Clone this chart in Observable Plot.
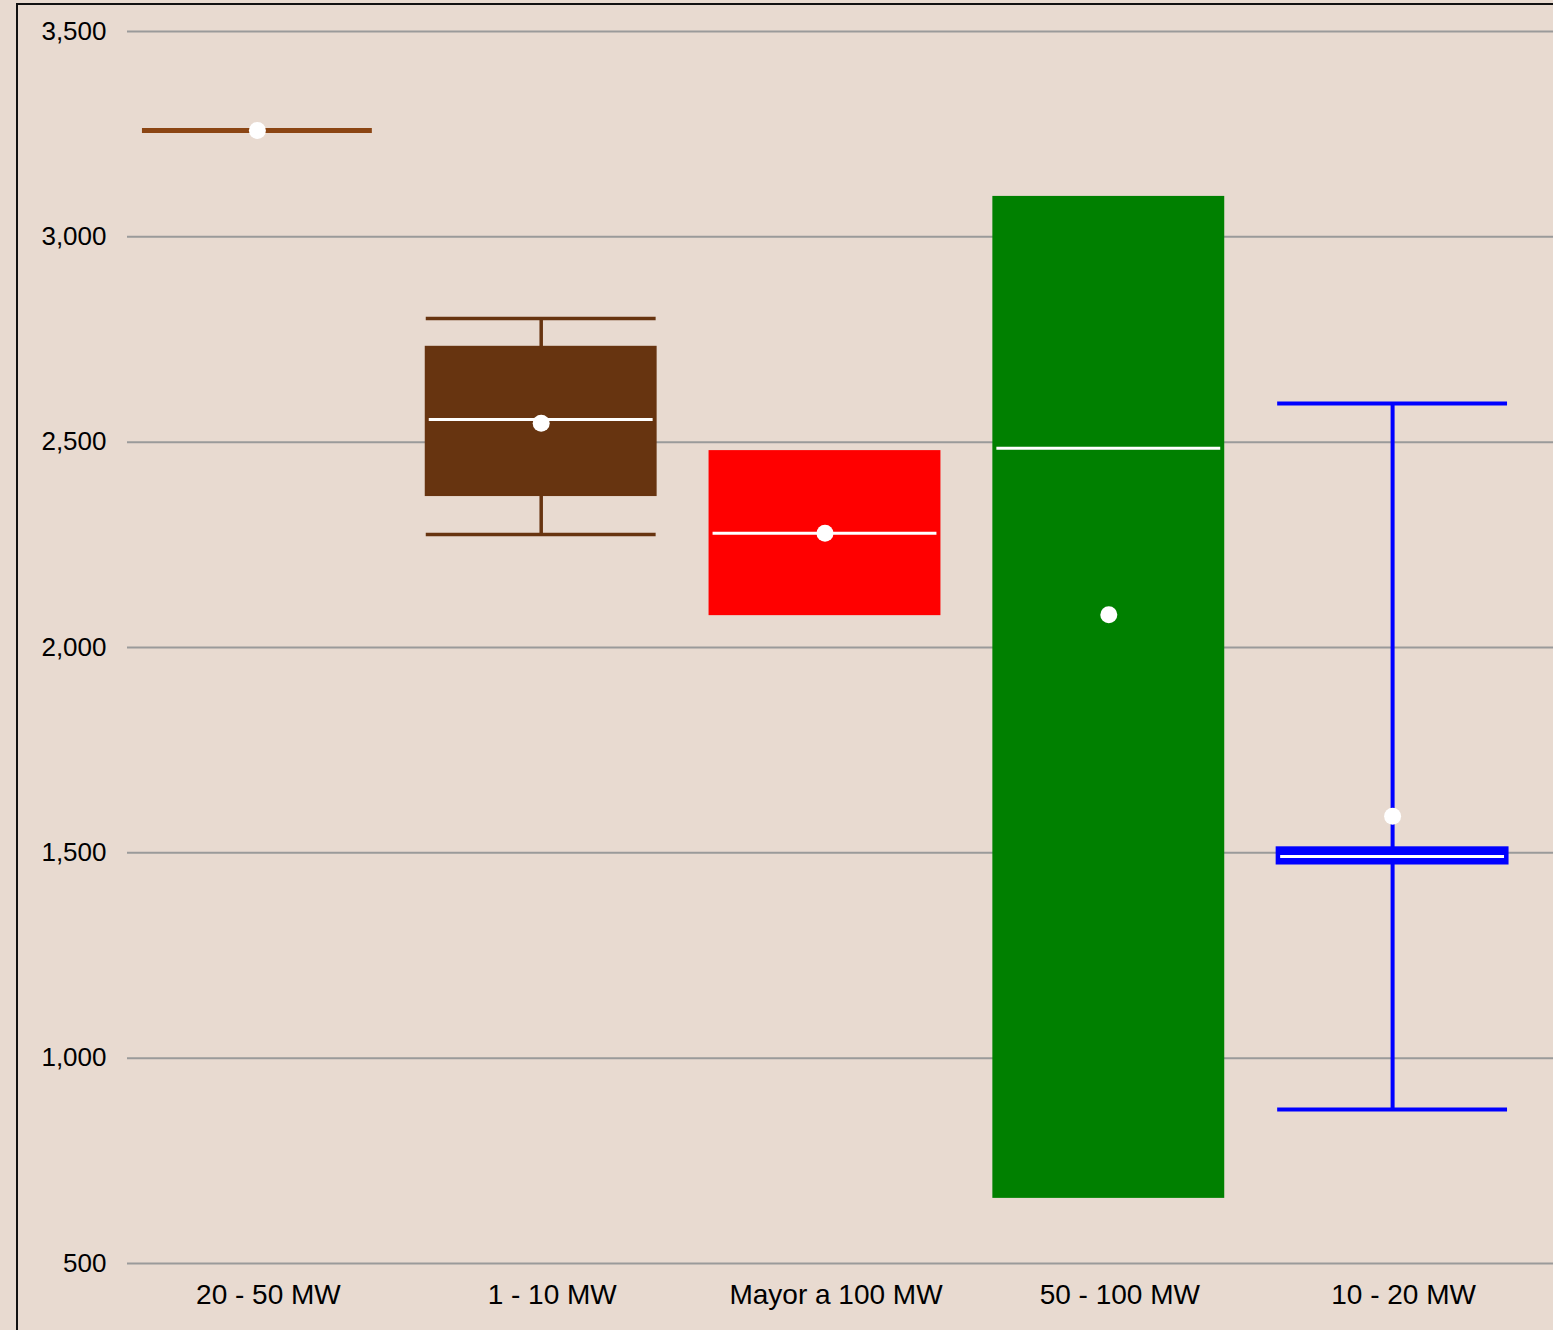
<!DOCTYPE html>
<html>
<head>
<meta charset="utf-8">
<script src="https://cdn.jsdelivr.net/npm/d3@7"></script>
<script src="https://cdn.jsdelivr.net/npm/@observablehq/plot@0.6"></script>
<style>
  html, body { margin: 0; padding: 0; background: #E8DAD0; overflow: hidden; }
  #wrap { position: relative; width: 1553px; height: 1330px; }
  #frameL { position: absolute; left: 16px; top: 3px; width: 2px; height: 1400px; background: #111; }
  #frameT { position: absolute; left: 16px; top: 3px; width: 1600px; height: 2px; background: #111; }
  #chart { position: absolute; left: 0; top: 0; }
  svg { background: transparent !important; }
</style>
</head>
<body>
<div id="wrap">
  <div id="chart"></div>
  <div id="frameL"></div>
  <div id="frameT"></div>
</div>
<script>
const categories = ["20 - 50 MW", "1 - 10 MW", "Mayor a 100 MW", "50 - 100 MW", "10 - 20 MW"];
const lowWhisker  = [3259, 2275, 2080, 661, 875];
const q1          = [3259, 2370, 2080, 661, 1474];
const median      = [3259, 2555, 2278, 2485, 1491];
const q3          = [3259, 2731, 2477, 3096, 1511];
const highWhisker = [3259, 2801, 2477, 3096, 2594];
const mean        = [3259, 2546, 2278, 2080, 1589];
const colors      = ["#8B4513", "#673410", "#FF0000", "#008000", "#0000FF"];
const yTicks      = [500, 1000, 1500, 2000, 2500, 3000, 3500];

const data = categories.map((c, i) => ({
  cat: c, low: lowWhisker[i], q1: q1[i], med: median[i], q3: q3[i],
  high: highWhisker[i], mean: mean[i]
}));

const DX = -11;
const font = "'Liberation Sans', Arial, sans-serif";
const wW = d => d.cat === "10 - 20 MW" ? 4 : 3.5;

const chart = Plot.plot({
  width: 1553,
  height: 1330,
  marginTop: 31,
  marginBottom: 67,
  marginLeft: 127,
  marginRight: 0,
  style: { fontFamily: font, background: "transparent", color: "#000" },
  x: { type: "band", domain: categories, range: [126, 1545], round: false, paddingInner: 0.19, paddingOuter: 0.095, label: null },
  y: { domain: [500, 3500], label: null },
  color: { domain: categories, range: colors },
  marks: [
    Plot.gridY(yTicks, { stroke: "#9a9a9a", strokeOpacity: 1, strokeWidth: 2 }),
    Plot.axisY(yTicks, { tickSize: 0, tickPadding: 21, tickFormat: d3.format(","), fontSize: 26, label: null }),
    Plot.axisX({ tickSize: 0, tickPadding: 21, fontSize: 28, label: null }),
    // whiskers (vertical)
    Plot.ruleX(data.filter(d => d.high > d.q3), { x: "cat", y1: "q3", y2: "high", stroke: "cat", strokeWidth: wW, dx: DX }),
    Plot.ruleX(data.filter(d => d.low < d.q1), { x: "cat", y1: "low", y2: "q1", stroke: "cat", strokeWidth: wW, dx: DX }),
    // whisker caps
    Plot.tickY(data.filter(d => d.high > d.q3), { x: "cat", y: "high", stroke: "cat", strokeWidth: wW, dx: DX }),
    Plot.tickY(data.filter(d => d.low < d.q1), { x: "cat", y: "low", stroke: "cat", strokeWidth: wW, dx: DX }),
    // boxes
    Plot.barY(data.filter(d => d.q3 > d.q1), { x: "cat", y1: "q1", y2: "q3", fill: "cat", stroke: "cat", strokeWidth: d => d.cat === "10 - 20 MW" ? 3 : 2, dx: DX }),
    // degenerate box (single value)
    Plot.tickY(data.filter(d => d.q3 === d.q1), { x: "cat", y: "med", stroke: "cat", strokeWidth: 5, dx: DX }),
    // medians
    Plot.tickY(data.filter(d => d.q3 > d.q1), { x: "cat", y: "med", stroke: "white", strokeWidth: 3, insetLeft: 3, insetRight: 3, dx: DX }),
    // means
    Plot.dot(data, { x: "cat", y: "mean", r: 8.5, fill: "white", stroke: "none", dx: DX })
  ]
});
document.getElementById("chart").appendChild(chart);
</script>
</body>
</html>
